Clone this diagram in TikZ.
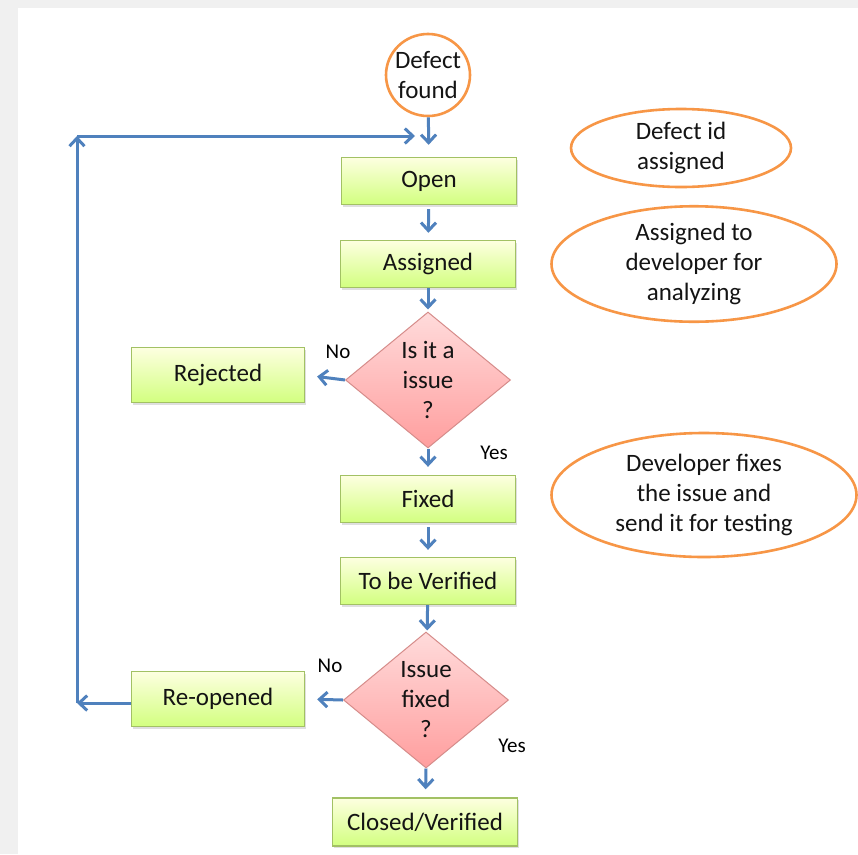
\documentclass[tikz,border=0pt]{standalone}
\usepackage{fontspec}
\setmainfont{Carlito}
\usepackage{xcolor}
\usepackage{tikz}
\usetikzlibrary{positioning,arrows.meta,shapes.geometric,shadows}

\definecolor{flowblue}{HTML}{4F81BD}
\definecolor{noteorange}{HTML}{F79646}
\definecolor{stategreen}{HTML}{A2C164}
\definecolor{checkred}{HTML}{D68C8A}

\begin{document}
\begin{tikzpicture}[x=1pt,y=-1pt,>={Straight Barb[length=8pt,width=15pt]},line width=3pt]
  \tikzstyle{state}=[rectangle,draw=stategreen,line width=1.4pt,top color=green!6!yellow!12,bottom color=green!35!yellow!50!white,minimum width=175pt,minimum height=47pt,inner sep=0pt,drop shadow={opacity=0.25,shadow xshift=1.5pt,shadow yshift=-2pt}]
  \tikzstyle{check}=[diamond,draw=checkred,line width=1pt,top color=red!14,bottom color=red!38,minimum width=165pt,minimum height=136pt,inner sep=0pt]
  \tikzstyle{note}=[ellipse,draw=noteorange,line width=2.6pt,fill=white,align=center,inner sep=0pt]
  \tikzstyle{flow}=[->,draw=flowblue]
  \tikzstyle{answer}=[font=\fontsize{21}{24}\selectfont]

  % frame
  \fill[black!6] (0,0) rectangle (858,854);
  \fill[white] (18,8) rectangle (858,854);
  \useasboundingbox (0,0) rectangle (858,854);

  \begin{scope}[font=\fontsize{25}{30}\selectfont,text=black!92]
  \node[note,minimum width=84pt,minimum height=82pt,inner sep=-9pt] (found) at (428,75) {Defect\\found};

  \node[state] (open) at (429,181) {Open};
  \node[state] (assigned) at (428,264) {Assigned};
  \node[check,label={[align=center,font=\fontsize{25}{30}\selectfont,text=black!92]center:Is it a\\issue\\?}] (issue) at (428,380) {};
  \node[state,minimum width=173pt,minimum height=55pt] (rejected) at (218,375) {Rejected};
  \node[state] (fixed) at (428,499) {Fixed};
  \node[state] (verify) at (428,581) {To be Verified};
  \node[check,label={[align=center,font=\fontsize{25}{30}\selectfont,text=black!92]center:Issue\\fixed\\?}] (fixedq) at (426,700) {};
  \node[state,minimum width=173pt,minimum height=55pt] (reopened) at (218,699) {Re-opened};
  \node[state,minimum width=185pt,minimum height=48pt] (closed) at (425,822) {Closed/Verified};

  \node[note,minimum width=220pt,minimum height=78pt] (idnote) at (681,148) {Defect id\\assigned};
  \node[note,minimum width=285pt,minimum height=108pt] (devnote) at (694,264) {Assigned to\\developer for\\analyzing};
  \node[note,minimum width=305pt,minimum height=124pt] (fixnote) at (704,495) {Developer fixes\\the issue and\\send it for testing};
  \end{scope}

  \node[answer] (no1) at (338,352) {No};
  \node[answer] (yes1) at (494,453) {Yes};
  \node[answer] (no2) at (330,666) {No};
  \node[answer] (yes2) at (512,746) {Yes};

  \draw[flow,shorten >=12pt] (found) -- (open);
  \draw[flow,shorten <=4pt,shorten >=7pt] (open) -- (assigned);
  \draw[flow,shorten >=2pt] (assigned) -- (issue);
  \draw[flow,shorten >=12pt] (issue.west) -- (rejected.east);
  \draw[flow,shorten >=8pt] (issue.south) -- (fixed);
  \draw[flow,shorten <=4pt,shorten >=7pt] (fixed) -- (verify);
  \draw[flow,shorten >=2pt] (verify) -- (fixedq);
  \draw[flow,shorten >=12pt] (fixedq.west) -- (reopened.east);
  \draw[flow,shorten >=8pt] (fixedq.south) -- (closed);

  % back to open
  \coordinate (loopb) at (77,703);
  \coordinate (loopt) at (77,136);
  \coordinate (loopin) at (415,136);
  \draw[flow] (reopened.west |- loopb) -- (loopb);
  \draw[flow] (loopb) -- (loopt);
  \draw[flow] (loopt) -- (loopin);
\end{tikzpicture}
\end{document}
